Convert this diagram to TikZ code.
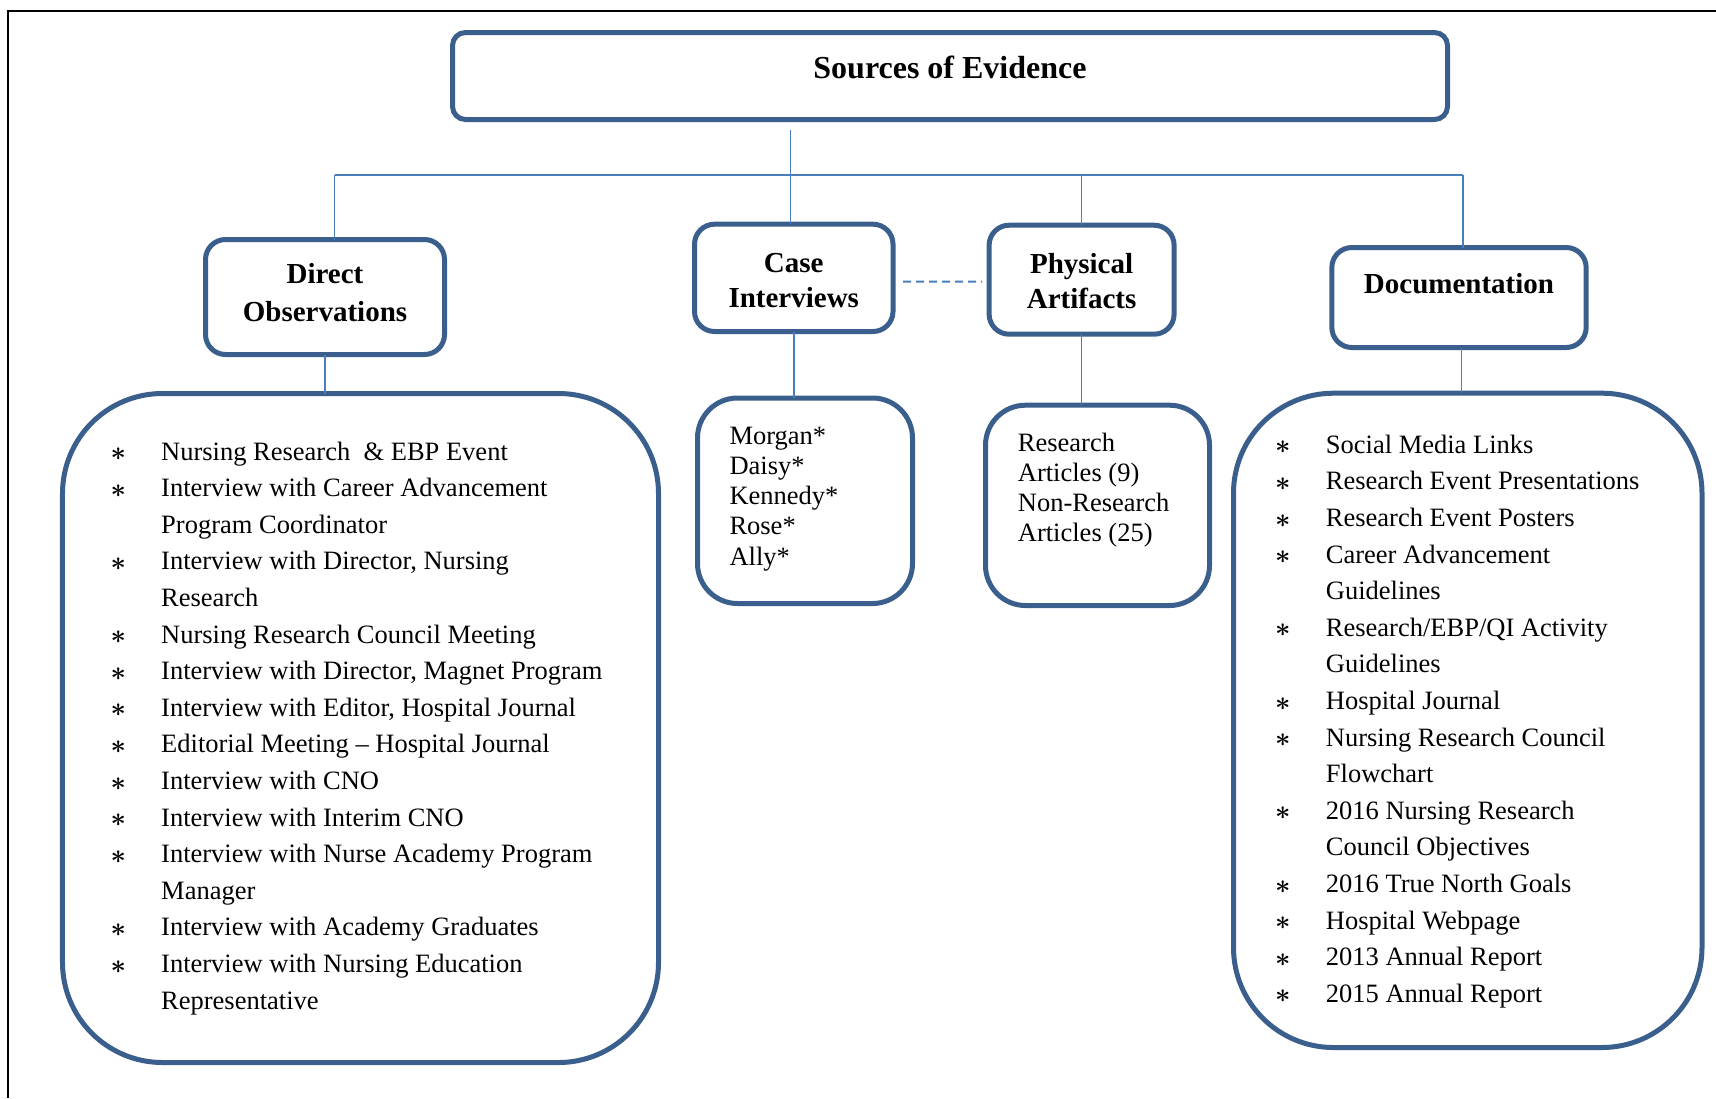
\documentclass[tikz,border=0pt]{standalone}
\usepackage{fontspec}
\setmainfont{Liberation Serif}

\definecolor{boxline}{HTML}{3A5F8C}
\definecolor{linkline}{HTML}{4A7EBB}

\tikzset{
  box/.style={draw=boxline, line width=5bp, rounded corners=#1, fill=white,
              inner sep=0pt, outer sep=0pt},
  link/.style={draw=linkline, line width=1.5bp},
  headtxt/.style={anchor=base, inner sep=0pt,
                  font=\fontsize{32bp}{38bp}\selectfont\bfseries},
  titletxt/.style={anchor=base, inner sep=0pt,
                   font=\fontsize{29bp}{35bp}\selectfont\bfseries},
  itemtxt/.style={anchor=base west, inner sep=0pt,
                  font=\fontsize{26.5bp}{30bp}\selectfont},
  bullettxt/.style={anchor=base, inner sep=0pt,
                    font=\fontsize{26.5bp}{30bp}\selectfont}
}
% centred asterisk used as list bullet
\newcommand{\listbullet}{\raisebox{-0.6bp}{\scalebox{1.08}{\boldmath$\ast$}}}

\begin{document}
\begin{tikzpicture}[x=1bp, y=-1bp]
\useasboundingbox (0,0) rectangle (1716,1098);

% outer frame (left and top edges)
\draw[line width=2bp, black] (7.7,1098) -- (7.7,11) -- (1716,11);

% junction points of the tree
\coordinate (tstem) at (790.3,130);
\coordinate (barL) at (334.6,175);
\coordinate (barR) at (1463,175);

% header box
\node[box=13bp, minimum width=995bp, minimum height=87bp] (title) at (950,76) {};
\node[headtxt] (titleT) at (950,78) {Sources of Evidence};

% category boxes
\node[box=20bp, minimum width=239bp, minimum height=115bp] (direct) at (325,297) {};
\node[box=20bp, minimum width=198.5bp, minimum height=107.3bp] (case) at (793.75,277.85) {};
\node[box=20bp, minimum width=185bp, minimum height=109bp] (phys) at (1081.6,279.7) {};
\node[box=20bp, minimum width=254.3bp, minimum height=100bp] (doc) at (1459,297.5) {};

% list boxes
\node[box=100bp, minimum width=596bp, minimum height=669bp] (leftlist) at (360.5,728) {};
\node[box=40bp, minimum width=215bp, minimum height=205.5bp] (caselist) at (805,500.75) {};
\node[box=40bp, minimum width=224bp, minimum height=200.3bp] (physlist) at (1097.5,505.35) {};
\node[box=100bp, minimum width=468.5bp, minimum height=654.3bp] (rightlist) at (1467.75,720.35) {};

% tree connectors
\draw[link] (barL) -- (barR);
\draw[link] (tstem) -- (tstem |- case.north);
\draw[link] (barL) -- (barL |- direct.north);
\draw[link] (phys.north |- barL) -- (phys.north);
\draw[link] (barR) -- (barR |- doc.north);
\draw[link] (direct.south) -- (direct.south |- leftlist.north);
\draw[link] (case.south) -- (case.south |- caselist.north);
\draw[link] (phys.south) -- (phys.south |- physlist.north);
\draw[link] ([xshift=2.5bp]doc.south) -- ([xshift=2.5bp]doc.south |- rightlist.north);
\draw[draw=linkline, line width=2bp, dash pattern=on 8bp off 5bp]
  ([shift={(10,3.8)}]case.east) -- ([shift={(-7,2)}]phys.west);

% category titles
\node[titletxt] (directT1) at (325,283) {Direct};
\node[titletxt] (directT2) at (325,321.4) {Observations};
\node[titletxt] (caseT1) at (793.75,272) {Case};
\node[titletxt] (caseT2) at (793.75,307) {Interviews};
\node[titletxt] (physT1) at (1081.6,273) {Physical};
\node[titletxt] (physT2) at (1081.6,308) {Artifacts};
\node[titletxt] (docT) at (1459,293) {Documentation};

% direct observations list
\foreach \b/\t [count=\i from 0] in {
  1/{Nursing Research\ \ \& EBP Event},
  1/{Interview with Career Advancement},
  0/{Program Coordinator},
  1/{Interview with Director, Nursing},
  0/{Research},
  1/{Nursing Research Council Meeting},
  1/{Interview with Director, Magnet Program},
  1/{Interview with Editor, Hospital Journal},
  1/{Editorial Meeting – Hospital Journal},
  1/{Interview with CNO},
  1/{Interview with Interim CNO},
  1/{Interview with Nurse Academy Program},
  0/{Manager},
  1/{Interview with Academy Graduates},
  1/{Interview with Nursing Education},
  0/{Representative}} {
  \pgfmathsetmacro{\yy}{460+36.6*\i}
  \node[itemtxt] (dl\i) at (161,\yy) {\t};
  \ifnum\b=1 \node[bullettxt] (db\i) at (118.3,\yy) {\listbullet}; \fi
}

% documentation list
\foreach \b/\t [count=\i from 0] in {
  1/{Social Media Links},
  1/{Research Event Presentations},
  1/{Research Event Posters},
  1/{Career Advancement},
  0/{Guidelines},
  1/{Research/EBP/QI Activity},
  0/{Guidelines},
  1/{Hospital Journal},
  1/{Nursing Research Council},
  0/{Flowchart},
  1/{2016 Nursing Research},
  0/{Council Objectives},
  1/{2016 True North Goals},
  1/{Hospital Webpage},
  1/{2013 Annual Report},
  1/{2015 Annual Report}} {
  \pgfmathsetmacro{\yy}{453.3+36.6*\i}
  \node[itemtxt] (rl\i) at (1325.7,\yy) {\t};
  \ifnum\b=1 \node[bullettxt] (rb\i) at (1282.7,\yy) {\listbullet}; \fi
}

% case interview list
\foreach \t [count=\i from 0] in {Morgan*, Daisy*, Kennedy*, Rose*, Ally*} {
  \pgfmathsetmacro{\yy}{444.3+30.2*\i}
  \node[itemtxt] (cl\i) at (729.3,\yy) {\t};
}

% physical artifacts list
\foreach \t [count=\i from 0] in {Research, Articles (9), Non-Research, Articles (25)} {
  \pgfmathsetmacro{\yy}{451+30*\i}
  \node[itemtxt] (pl\i) at (1017.7,\yy) {\t};
}
\end{tikzpicture}
\end{document}
